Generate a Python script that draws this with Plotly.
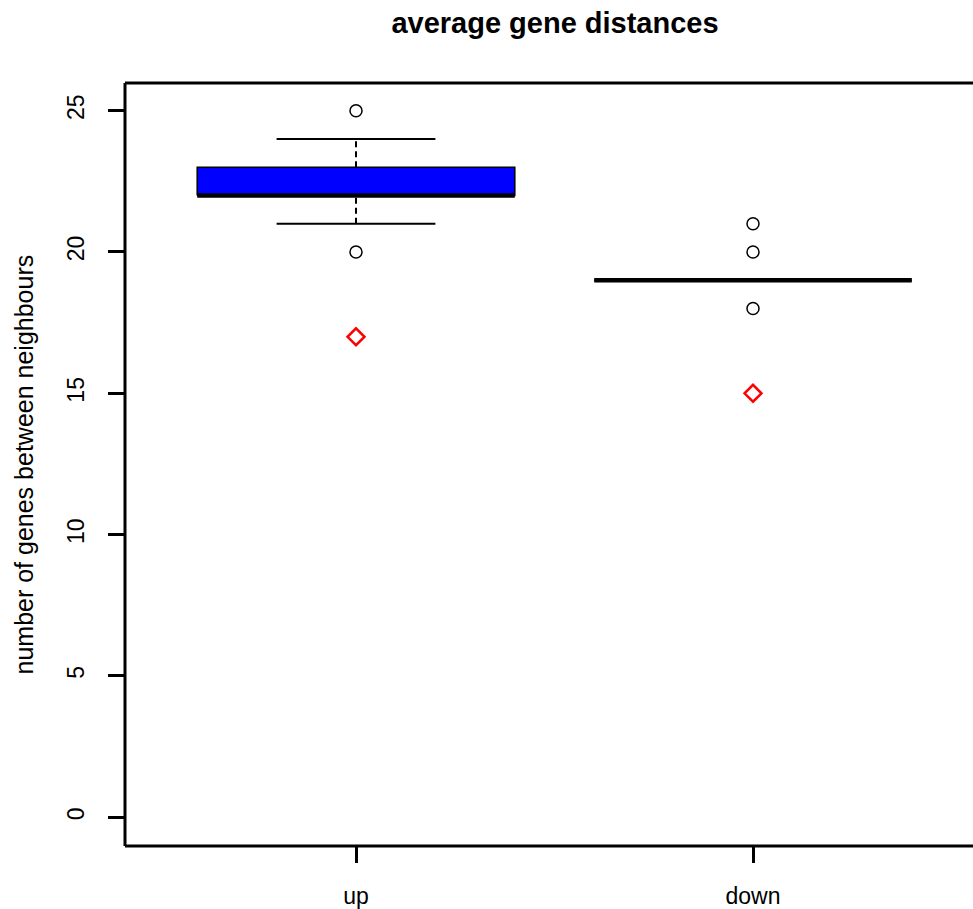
import plotly.graph_objects as go

# ---- data ----
groups = ["up", "down"]
positions = [1, 2]
q1 = [22, 19]
median = [22, 19]
q3 = [23, 19]
whisker_low = [21, 19]
whisker_high = [24, 19]
outliers = [[25, 20], [21, 20, 18]]
highlight = [17, 15]
box_colors = ["#0000ff", "#ffffff"]

y_ticks = [0, 5, 10, 15, 20, 25]

BOX_HALF = 0.4
CAP_HALF = 0.2

fig = go.Figure()

for i, p in enumerate(positions):
    # whiskers (dashed)
    fig.add_trace(go.Scatter(
        x=[p, p, None, p, p],
        y=[whisker_low[i], q1[i], None, q3[i], whisker_high[i]],
        mode="lines", line=dict(color="black", width=2, dash="6px,4px"),
        showlegend=False, hoverinfo="skip"))
    # caps
    fig.add_trace(go.Scatter(
        x=[p - CAP_HALF, p + CAP_HALF, None, p - CAP_HALF, p + CAP_HALF],
        y=[whisker_low[i], whisker_low[i], None, whisker_high[i], whisker_high[i]],
        mode="lines", line=dict(color="black", width=2),
        showlegend=False, hoverinfo="skip"))
    # box
    fig.add_trace(go.Scatter(
        x=[p - BOX_HALF, p + BOX_HALF, p + BOX_HALF, p - BOX_HALF, p - BOX_HALF],
        y=[q1[i], q1[i], q3[i], q3[i], q1[i]],
        mode="lines", fill="toself", fillcolor=box_colors[i],
        line=dict(color="black", width=1.5),
        showlegend=False, hoverinfo="skip"))
    # median
    fig.add_trace(go.Scatter(
        x=[p - BOX_HALF, p + BOX_HALF], y=[median[i], median[i]],
        mode="lines", line=dict(color="black", width=4.5),
        showlegend=False, hoverinfo="skip"))
    # outliers
    fig.add_trace(go.Scatter(
        x=[p] * len(outliers[i]), y=outliers[i], mode="markers",
        marker=dict(symbol="circle-open", size=12, color="black",
                    line=dict(width=1.5, color="black")),
        showlegend=False))

# highlighted red diamonds
fig.add_trace(go.Scatter(
    x=positions, y=highlight, mode="markers",
    marker=dict(symbol="diamond-open", size=13, color="red",
                line=dict(width=2.5, color="red")),
    showlegend=False))

FIG_W = 973
PLOT_W = FIG_W - 125
PX_PER_UNIT = 397.0
X0 = 1 - 231 / PX_PER_UNIT

fig.update_layout(
    width=FIG_W, height=909,
    margin=dict(l=125, r=0, t=83, b=57),
    paper_bgcolor="white", plot_bgcolor="white",
    font=dict(family="Liberation Sans, Arial, Helvetica, sans-serif", color="black"),
    title=dict(text="<b>average gene distances</b>", x=(555 - 125) / PLOT_W,
               xanchor="center", xref="paper", y=1 - 23 / 909, yanchor="middle",
               font=dict(size=29, color="black")),
    xaxis=dict(range=[X0, X0 + PLOT_W / PX_PER_UNIT], tickvals=positions, ticktext=groups,
               showgrid=False, zeroline=False, showline=False,
               ticks="outside", ticklen=16,
               tickwidth=2.5, tickcolor="black", tickfont=dict(size=23),
               ticklabelstandoff=13),
    yaxis=dict(range=[-1.02, 25.98], tickvals=y_ticks,
               showgrid=False, zeroline=False, showline=False,
               ticks="outside", ticklen=16, tickwidth=2.5,
               tickcolor="black", tickfont=dict(size=23), tickangle=-90,
               ticklabelstandoff=15),
)

# plot frame (left, top, bottom; right side lies beyond the window)
frame = dict(type="line", xref="paper", yref="paper", line=dict(color="black", width=3))
fig.add_shape(x0=0, x1=0, y0=0, y1=1, **frame)
fig.add_shape(x0=0, x1=1.01, y0=1, y1=1, **frame)
fig.add_shape(x0=0, x1=1.01, y0=0, y1=0, **frame)

fig.add_annotation(
    text="number of genes between neighbours", textangle=-90,
    xref="paper", yref="paper", x=(23 - 125) / PLOT_W, y=0.5,
    xanchor="center", yanchor="middle", showarrow=False,
    font=dict(size=25, color="black"))

fig.write_html(
    "out.html",
    config={"displayModeBar": False},
    post_script=(
        "document.documentElement.style.margin='0';"
        "document.documentElement.style.padding='0';"
        "document.documentElement.style.overflow='hidden';"
        "document.body.style.margin='0';document.body.style.padding='0';"
        "document.body.style.overflow='hidden';"
        "var gd=document.getElementById('{plot_id}');"
        "gd.style.position='absolute';gd.style.left='0px';gd.style.top='0px';"
    ),
)
